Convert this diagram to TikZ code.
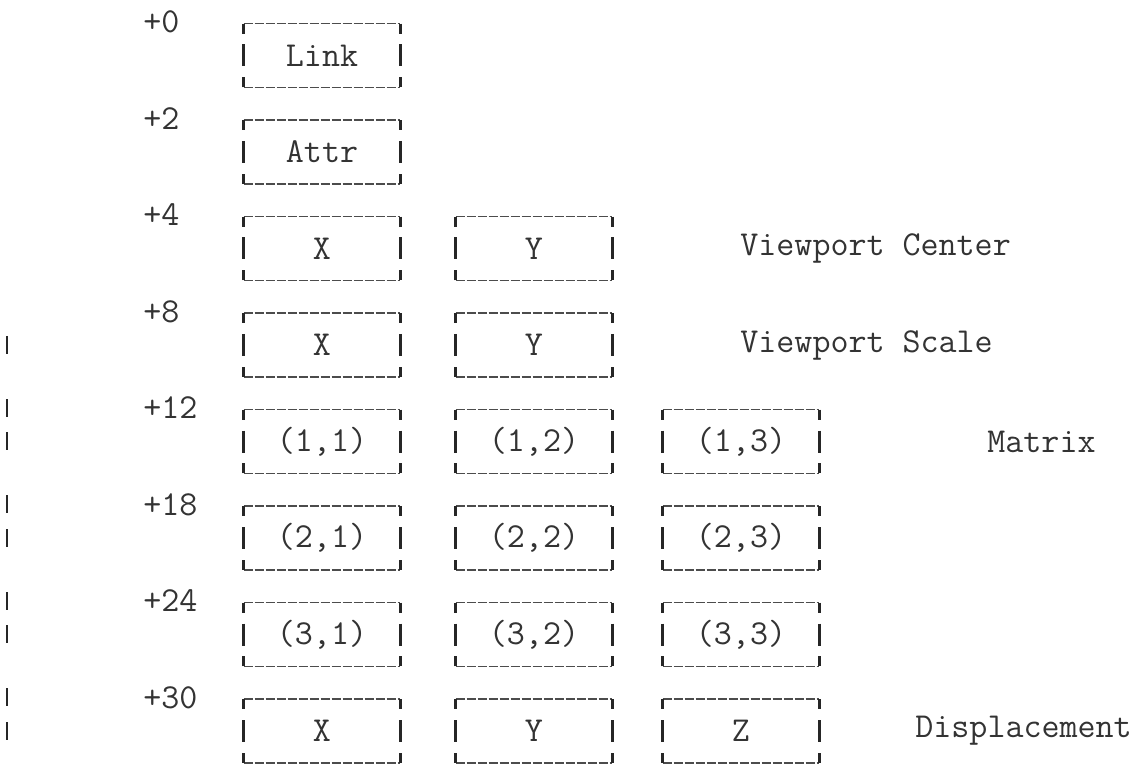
\documentclass[tikz,border=0pt]{standalone}
\usepackage{fontspec}
\newcommand{\twsize}{\ttfamily\fontsize{17.5}{20}\selectfont}
\begin{document}
\begin{tikzpicture}[
  x=0.5pt, y=-0.5pt,
  rim/.style={black!70, line width=0.7pt, dash pattern=on 4.5pt off 1pt},
  tick/.style={black!85, line width=1.2pt},
  chg/.style={black!85, line width=1.3pt},
  off/.style={anchor=west, inner sep=0pt, font=\twsize, text=black!80},
  note/.style={anchor=west, inner sep=0pt, font=\twsize, text=black!80},
  fld/.style={minimum width=78pt, minimum height=31.5pt, inner sep=0pt,
    font=\twsize, text=black!80,
    append after command={\pgfextra{
      \draw[rim] (\tikzlastnode.north west) -- (\tikzlastnode.north east);
      \draw[rim] (\tikzlastnode.south west) -- (\tikzlastnode.south east);
      \draw[tick] (\tikzlastnode.north west) -- ++(0,-5pt);
      \draw[tick] (\tikzlastnode.north east) -- ++(0,-5pt);
      \draw[tick] (\tikzlastnode.south west) -- ++(0,5pt);
      \draw[tick] (\tikzlastnode.south east) -- ++(0,5pt);
      \draw[tick] (\tikzlastnode.west) ++(0,5.5pt) -- ++(0,-11pt);
      \draw[tick] (\tikzlastnode.east) ++(0,5.5pt) -- ++(0,-11pt);
    }}}
]
\useasboundingbox (0,0) rectangle (1139,764);

% ---- offsets ----
\node[off] (o0)  at (143,22)    {+0};
\node[off] (o2)  at (143,118.5) {+2};
\node[off] (o4)  at (143,215)   {+4};
\node[off] (o8)  at (143,311.5) {+8};
\node[off] (o12) at (143,408)   {+12};
\node[off] (o18) at (143,504.5) {+18};
\node[off] (o24) at (143,601)   {+24};
\node[off] (o30) at (143,697.5) {+30};

% ---- header ----
\node[fld] (lnk)  at (322,55.5) {Link};
\node[fld] (attr) at (322,152)  {Attr};

% ---- viewport ----
\node[fld] (vcx) at (322,248.5) {X};
\node[fld] (vcy) at (534,248.5) {Y};
\node[note] (vcLbl) at (740,248.5) {Viewport Center};

\node[fld] (vsx) at (322,345) {X};
\node[fld] (vsy) at (534,345) {Y};
\node[note] (vsLbl) at (740,345) {Viewport Scale};

% ---- matrix ----
\node[fld] (m11) at (322,441.5) {(1,1)};
\node[fld] (m12) at (534,441.5) {(1,2)};
\node[fld] (m13) at (741,441.5) {(1,3)};
\node[note] (mLbl) at (987,441.5) {Matrix};

\node[fld] (m21) at (322,538) {(2,1)};
\node[fld] (m22) at (534,538) {(2,2)};
\node[fld] (m23) at (741,538) {(2,3)};

\node[fld] (m31) at (322,634.5) {(3,1)};
\node[fld] (m32) at (534,634.5) {(3,2)};
\node[fld] (m33) at (741,634.5) {(3,3)};

% ---- displacement ----
\node[fld] (dx) at (322,731) {X};
\node[fld] (dy) at (534,731) {Y};
\node[fld] (dz) at (741,731) {Z};
\node[note] (dLbl) at (915,731) {Displacement};

% change bars in the margin
\draw[chg] (7,336) -- (7,354);
\draw[chg] (7,399) -- (7,417);
\draw[chg] (7,432) -- (7,450);
\draw[chg] (7,495) -- (7,513);
\draw[chg] (7,529) -- (7,547);
\draw[chg] (7,592) -- (7,610);
\draw[chg] (7,625) -- (7,643);
\draw[chg] (7,688) -- (7,706);
\draw[chg] (7,722) -- (7,740);

\end{tikzpicture}
\end{document}
